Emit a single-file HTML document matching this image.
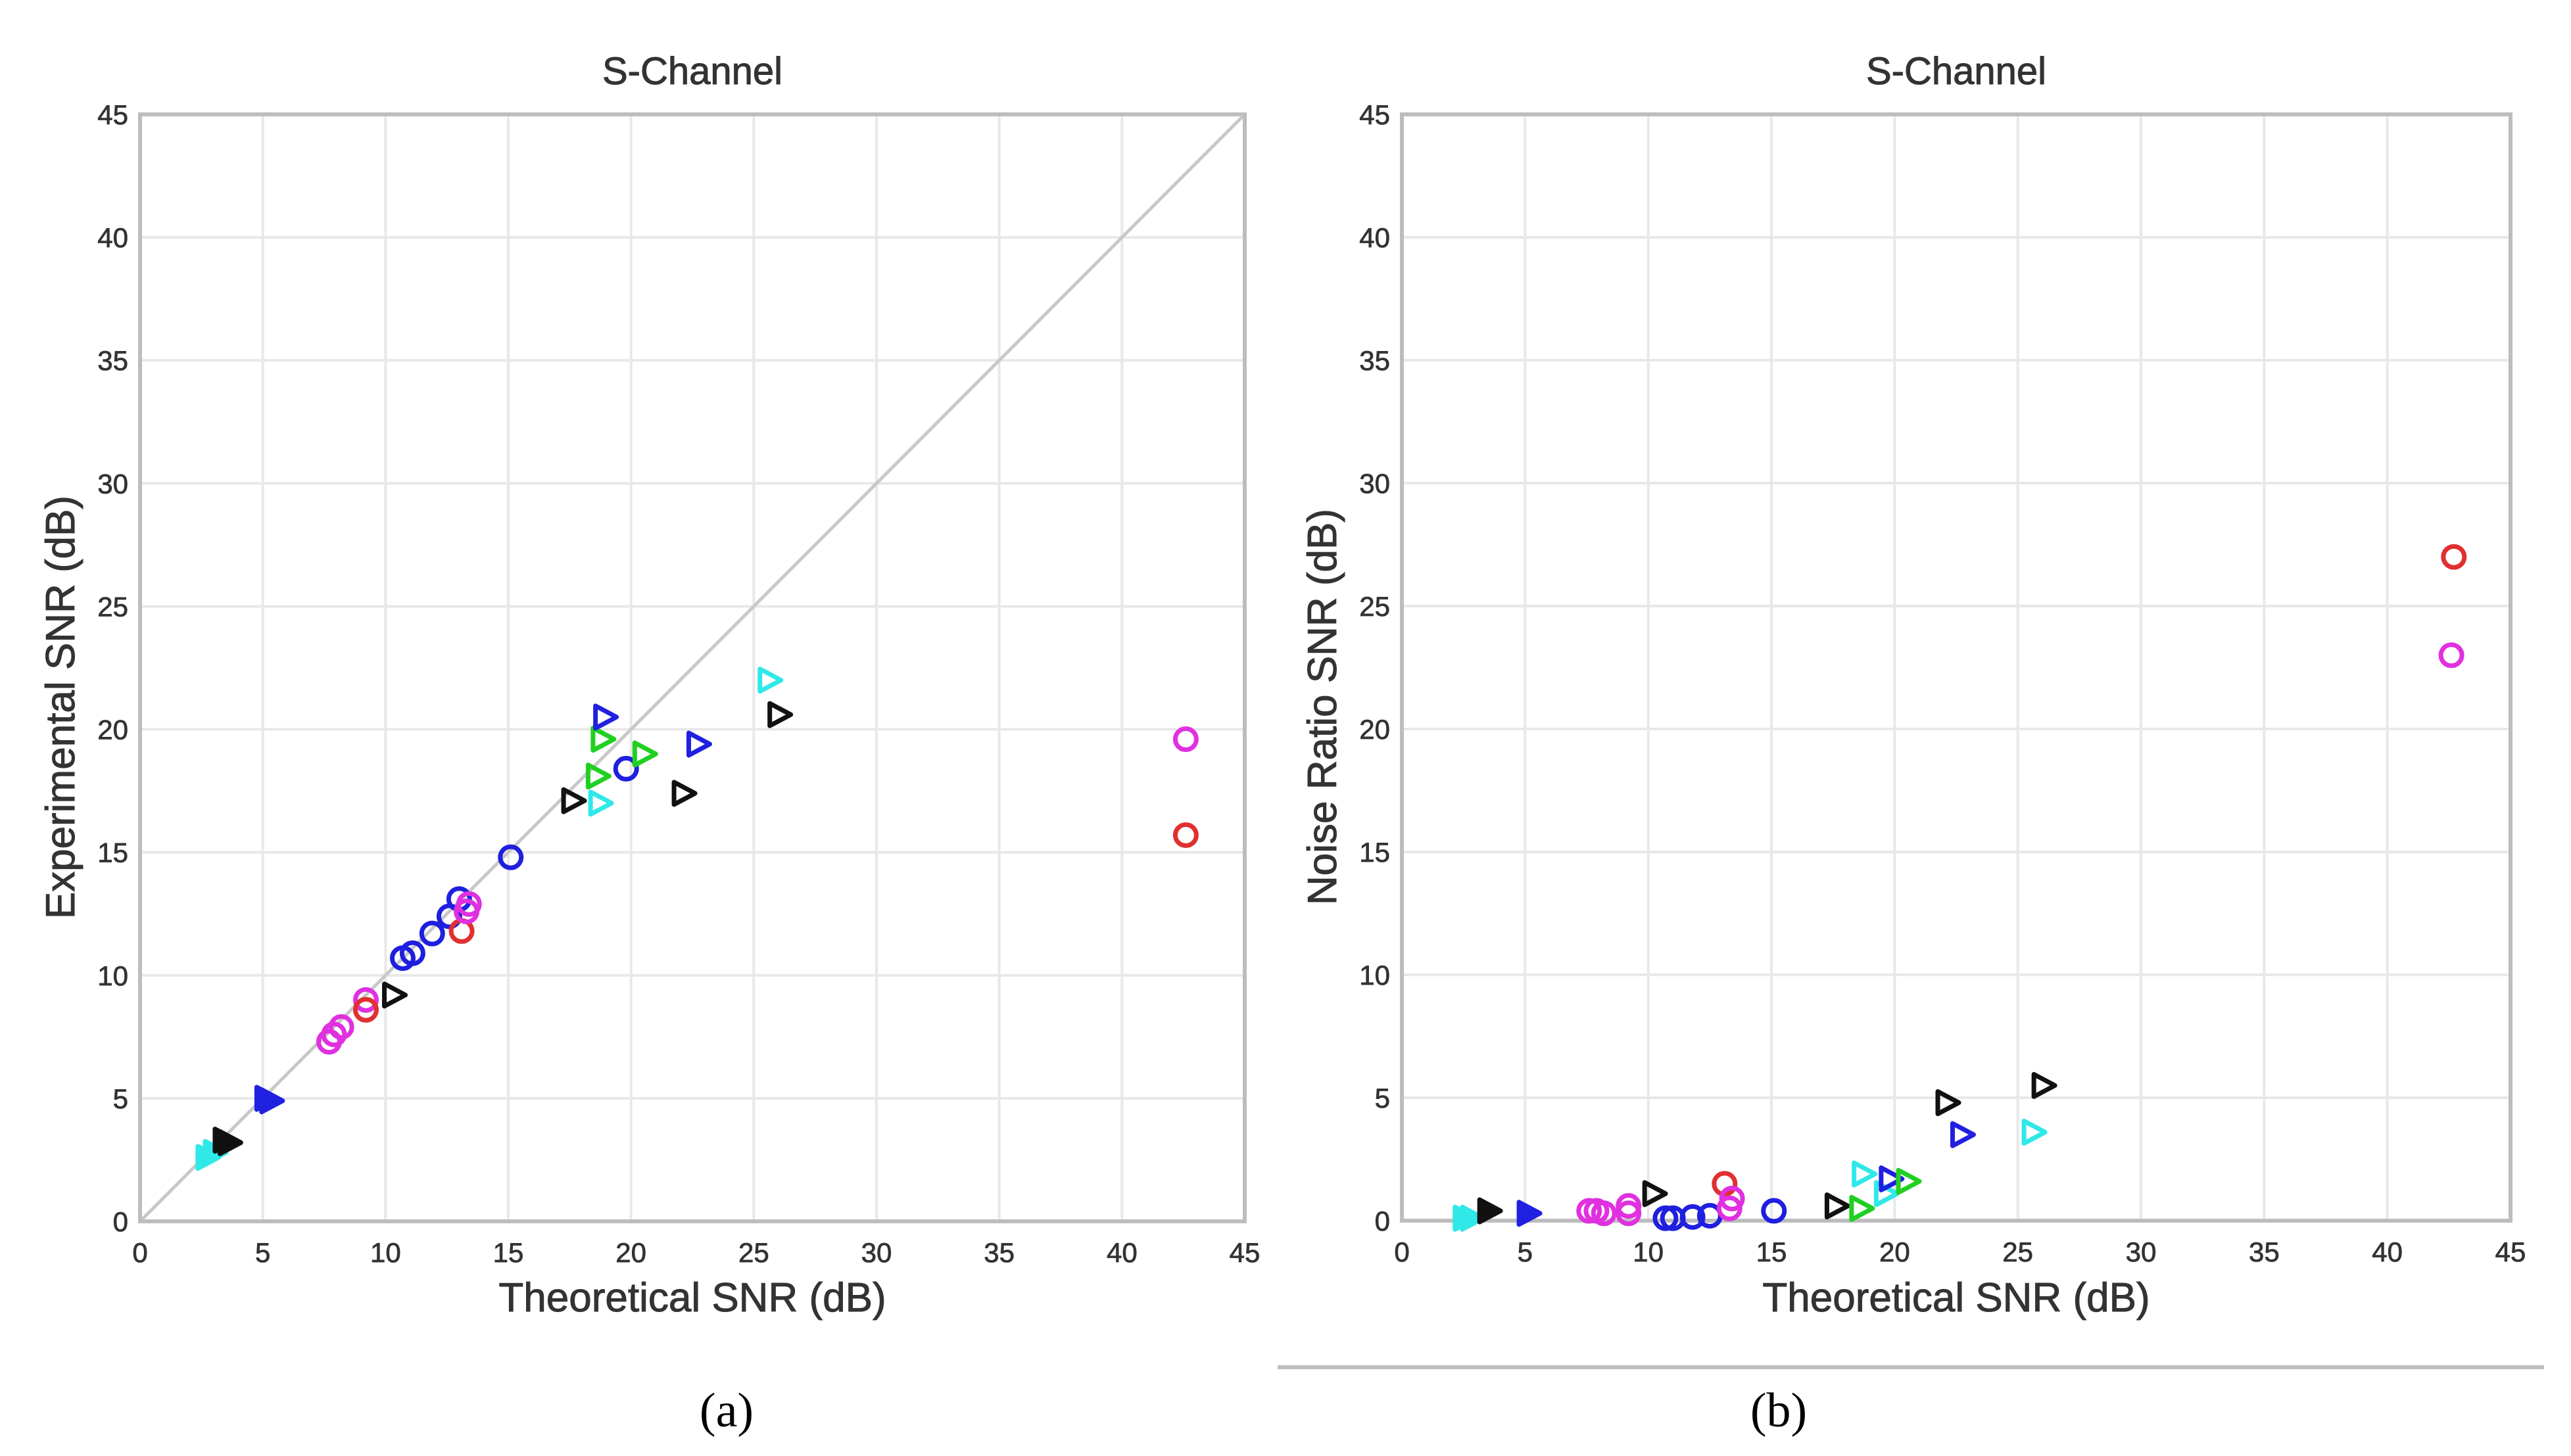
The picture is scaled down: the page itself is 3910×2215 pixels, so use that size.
<!DOCTYPE html>
<html><head><meta charset="utf-8"><style>
html,body{margin:0;padding:0;background:#fff;}
svg{display:block;}
text{font-family:"Liberation Sans",sans-serif;}
</style></head><body>
<svg id="fig" width="3910" height="2215" viewBox="0 0 3910 2215" xmlns="http://www.w3.org/2000/svg">
<rect width="3910" height="2215" fill="#fff"/>
<line x1="1943" y1="2080" x2="3869" y2="2080" stroke="#bdbdbd" stroke-width="6"/>
<text x="1105" y="2170" font-size="74" text-anchor="middle" style="font-family:'Liberation Serif',serif">(a)</text>
<text x="2705" y="2170" font-size="74" text-anchor="middle" style="font-family:'Liberation Serif',serif">(b)</text>
<g id="plotA"></g>
<g id="plotB"></g>
</svg>
<script>
const ticks = [0,5,10,15,20,25,30,35,40,45];
const tickLabels = ["0","5","10","15","20","25","30","35","40","45"];
// series style index: 0 blue circle,1 red circle,2 magenta circle,3 black tri,4 blue tri,5 green tri,6 cyan tri,7 black filled tri,8 blue filled tri,9 cyan filled tri
const leftX = [2.7,3.0,3.4,3.6,5.1,5.3,7.7,7.9,8.2,9.2,9.2,10.3,10.7,11.1,11.9,12.6,13.0,13.1,13.3,13.4,15.1,17.6,18.7,18.6,18.8,18.9,19.8,20.5,22.7,22.1,25.6,26.0,42.6,42.6];
const leftY = [2.6,2.8,3.3,3.2,5.0,4.9,7.3,7.6,7.9,9.0,8.6,9.2,10.7,10.9,11.7,12.4,13.1,11.8,12.6,12.9,14.8,17.1,17.0,18.1,19.6,20.5,18.4,19.0,19.4,17.4,22.0,20.6,19.6,15.7];
const leftS = [9,9,7,7,8,8,2,2,2,2,1,3,0,0,0,0,0,1,2,2,0,3,6,5,5,4,0,5,4,3,6,3,2,1];
const rightX = [2.5,2.8,3.5,5.1,7.6,7.9,8.2,9.2,9.2,10.2,10.7,11.0,11.8,12.5,13.1,13.4,13.3,15.1,17.6,18.6,18.7,19.6,19.8,20.5,22.1,22.7,25.6,26.0,42.7,42.6];
const rightY = [0.1,0.1,0.4,0.3,0.4,0.4,0.3,0.6,0.3,1.1,0.1,0.1,0.15,0.2,1.5,0.9,0.5,0.4,0.6,0.5,1.9,1.1,1.7,1.6,4.8,3.5,3.6,5.5,27.0,23.0];
const rightS = [9,9,7,8,2,2,2,2,2,3,0,0,0,0,1,2,2,0,3,5,6,6,4,5,3,4,6,3,1,2];
const seriesColor = ["#1f1fe0","#e03030","#e030e0","#111111","#2020e0","#20d020","#30e8e8","#111111","#2020e0","#30e8e8"];
const seriesShape = ["o","o","o","t","t","t","t","T","T","T"];

const NS="http://www.w3.org/2000/svg";
function mk(parent,tag,attrs){const e=document.createElementNS(NS,tag);for(const k in attrs)e.setAttribute(k,attrs[k]);parent.appendChild(e);return e;}

function drawPlot(g,x0,x1,y0,y1,xs,ys,ss,ylabel,diag,pfx){
  const sx=v=>x0+(x1-x0)*v/45, sy=v=>y0-(y0-y1)*v/45;
  ticks.forEach((t,i)=>{
    if(t>0&&t<45){
      const gv=mk(g,'line',{x1:sx(t),x2:sx(t),y1:y1,y2:y0,stroke:'#e8e8e8','stroke-width':4});
      
      
      const gh=mk(g,'line',{x1:x0,x2:x1,y1:sy(t),y2:sy(t),stroke:'#e8e8e8','stroke-width':4});
      
      
    }
    const tx=mk(g,'text',{x:sx(t),y:y0+62,'font-size':42,'text-anchor':'middle',fill:'#333','stroke':'#333','stroke-width':0.8});
    tx.textContent=tickLabels[i];
    
    
    const ty=mk(g,'text',{x:x0-18,y:sy(t)+15,'font-size':42,'text-anchor':'end',fill:'#333','stroke':'#333','stroke-width':0.8});
    ty.textContent=tickLabels[i];
    
    
  });
  if(diag){
    const d=mk(g,'line',{x1:sx(0),y1:sy(0),x2:sx(45),y2:sy(45),stroke:'#c8c8c8','stroke-width':5});
    
    
  }
  const box=mk(g,'rect',{x:x0,y:y1,width:x1-x0,height:y0-y1,fill:'none',stroke:'#bdbdbd','stroke-width':6});
  
  
  xs.forEach((v,i)=>{
    const c=seriesColor[ss[i]], sh=seriesShape[ss[i]], px=sx(v), py=sy(ys[i]);
    let m;
    if(sh==='o'){m=mk(g,'circle',{cx:px,cy:py,r:16,fill:'none',stroke:c,'stroke-width':7});}
    else{
      const pts=`${px-13},${py-17} ${px+19},${py} ${px-13},${py+17}`;
      m=mk(g,'polygon',{points:pts,fill:sh==='T'?c:'none',stroke:c,'stroke-width':7,'stroke-linejoin':'round'});
    }
    
    
  });
  const t=mk(g,'text',{x:(x0+x1)/2,y:128,'font-size':58,'text-anchor':'middle',fill:'#333','stroke':'#333','stroke-width':1});
  t.textContent='S-Channel';
  
  
  const xl=mk(g,'text',{x:(x0+x1)/2,y:1995,'font-size':62,'text-anchor':'middle',fill:'#333','stroke':'#333','stroke-width':1});
  xl.textContent='Theoretical SNR (dB)';
  
  
  const yx=x0-100, yy=(y0+y1)/2+60;
  const yl=mk(g,'text',{x:yx,y:yy,'font-size':62,'text-anchor':'middle',fill:'#333','stroke':'#333','stroke-width':1,transform:`rotate(-90 ${yx} ${yy})`});
  yl.textContent=ylabel;
  
  
}
drawPlot(document.getElementById('plotA'),213,1893,1858,174,leftX,leftY,leftS,'Experimental SNR (dB)',true,'a');
drawPlot(document.getElementById('plotB'),2132,3818,1857,174,rightX,rightY,rightS,'Noise Ratio SNR (dB)',false,'b');
</script>
</body></html>
